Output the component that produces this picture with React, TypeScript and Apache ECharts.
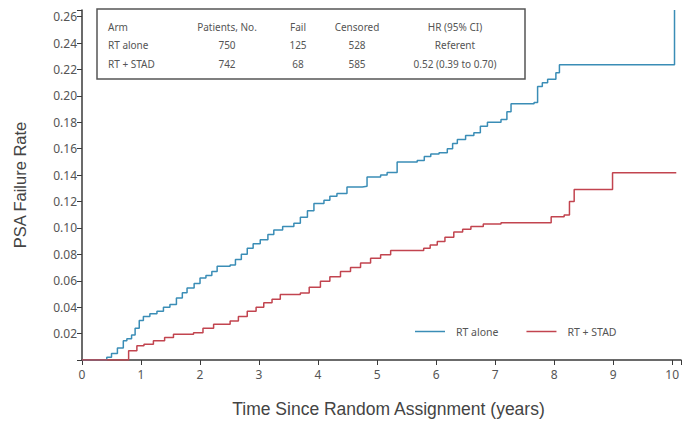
import React, { useEffect, useRef } from "react";
import * as echarts from "echarts";

// Kaplan-Meier style cumulative PSA failure (time in years, rate)
const rtAloneTimes = [0, 0.35, 0.42, 0.5, 0.6, 0.7, 0.76, 0.84, 0.9, 0.97, 1.04, 1.15, 1.27, 1.38, 1.49, 1.6, 1.7, 1.78, 1.9, 2.0, 2.1, 2.2, 2.29, 2.4, 2.51, 2.6, 2.7, 2.8, 2.9, 3.02, 3.15, 3.25, 3.4, 3.59, 3.7, 3.82, 3.93, 4.1, 4.2, 4.32, 4.49, 4.75, 4.83, 5.06, 5.17, 5.34, 5.68, 5.8, 5.91, 6.05, 6.19, 6.28, 6.36, 6.5, 6.64, 6.75, 6.87, 7.1, 7.2, 7.27, 7.66, 7.72, 7.8, 7.89, 8.03, 8.09, 10.04, 10.04];
const rtAloneRates = [0, 0, 0.002, 0.005, 0.009, 0.0145, 0.016, 0.019, 0.024, 0.03, 0.033, 0.035, 0.037, 0.04, 0.042, 0.047, 0.051, 0.0546, 0.058, 0.062, 0.064, 0.067, 0.071, 0.071, 0.072, 0.076, 0.08, 0.0846, 0.088, 0.091, 0.095, 0.0985, 0.101, 0.1035, 0.108, 0.113, 0.1185, 0.121, 0.124, 0.126, 0.131, 0.1315, 0.1386, 0.14, 0.142, 0.15, 0.151, 0.154, 0.156, 0.157, 0.16, 0.164, 0.167, 0.17, 0.172, 0.177, 0.18, 0.182, 0.188, 0.194, 0.195, 0.207, 0.21, 0.2125, 0.2175, 0.2235, 0.2235, 0.265];

const rtStadTimes = [0, 0.7, 0.79, 0.93, 1.05, 1.21, 1.4, 1.55, 1.89, 2.05, 2.23, 2.51, 2.65, 2.8, 2.95, 3.08, 3.22, 3.36, 3.7, 3.85, 4.04, 4.2, 4.38, 4.55, 4.72, 4.89, 5.06, 5.23, 5.79, 5.9, 6.02, 6.15, 6.3, 6.45, 6.59, 6.8, 7.1, 7.95, 8.17, 8.26, 8.34, 8.99, 10.07];
const rtStadRates = [0, 0, 0.007, 0.0107, 0.012, 0.0145, 0.017, 0.0195, 0.0207, 0.024, 0.027, 0.0295, 0.033, 0.037, 0.04, 0.0433, 0.046, 0.0496, 0.0508, 0.055, 0.0596, 0.063, 0.067, 0.07, 0.0734, 0.077, 0.0796, 0.083, 0.0846, 0.087, 0.0897, 0.093, 0.097, 0.099, 0.101, 0.103, 0.104, 0.1085, 0.1097, 0.12, 0.129, 0.1418, 0.1418];

const seriesNames = ["RT alone", "RT + STAD"];
const tableHeaders = ["Arm", "Patients, No.", "Fail", "Censored", "HR (95% CI)"];
const tableRows = [
  ["RT alone", "750", "125", "528", "Referent"],
  ["RT + STAD", "742", "68", "585", "0.52 (0.39 to 0.70)"],
];

const BLUE = "#3a8db6";
const RED = "#c2444f";
const TEXT = "#555";
const AXIS = "#3a3a3a";

export default function App() {
  const ref = useRef<HTMLDivElement>(null);
  useEffect(() => {
    if (!ref.current) return;
    const chart = echarts.init(ref.current, null, { renderer: "svg" });
    const colX = [108, 227, 298, 357, 455];
    const rowY = [27, 45, 64];
    const tableTexts: any[] = [];
    [tableHeaders, ...tableRows].forEach((row, ri) => {
      row.forEach((cell, ci) => {
        tableTexts.push({
          type: "text",
          x: colX[ci],
          y: rowY[ri],
          style: {
            text: cell,
            fill: TEXT,
            font: '10px "Noto Sans"',
            textAlign: ci === 0 ? "left" : "center",
            textVerticalAlign: "middle",
          },
        });
      });
    });
    const onTick = (v: number, step: number) =>
      Math.abs(v / step - Math.round(v / step)) < 1e-6;
    chart.setOption({
      animation: false,
      backgroundColor: "#fff",
      grid: { left: 82, right: 3, top: 10, bottom: 60.5, containLabel: false },
      xAxis: {
        type: "value",
        min: 0,
        max: 10.15,
        interval: 1,
        name: "Time Since Random Assignment (years)",
        nameLocation: "middle",
        nameGap: 40,
        nameTextStyle: { fontFamily: '"Liberation Sans"', fontSize: 17.5, color: "#444", padding: [0, 0, 0, 14] },
        axisLine: { show: true, lineStyle: { color: AXIS, width: 1.5 } },
        axisTick: { show: true, length: 5, lineStyle: { color: AXIS } },
        axisLabel: {
          color: TEXT,
          fontSize: 12,
          fontFamily: '"Noto Sans"',
          margin: 8,
          formatter: (v: number) => (onTick(v, 1) ? String(Math.round(v)) : ""),
        },
        splitLine: { show: false },
      },
      yAxis: {
        type: "value",
        min: 0,
        max: 0.265,
        interval: 0.02,
        name: "PSA Failure Rate",
        nameLocation: "middle",
        nameGap: 54,
        nameTextStyle: { fontFamily: '"Liberation Sans"', fontSize: 16.5, color: "#444" },
        axisLine: { show: true, lineStyle: { color: AXIS, width: 1.5 } },
        axisTick: { show: true, length: 5, lineStyle: { color: AXIS } },
        axisLabel: {
          color: TEXT,
          fontSize: 12,
          fontFamily: '"Noto Sans"',
          margin: 5,
          formatter: (v: number) => (v > 0 && onTick(v, 0.02) ? v.toFixed(2) : ""),
        },
        splitLine: { show: false },
      },
      legend: {
        left: 410,
        top: 321,
        itemWidth: 30,
        itemHeight: 1.5,
        itemGap: 28,
        icon: "rect",
        textStyle: { color: TEXT, fontSize: 10.5, fontFamily: '"Noto Sans"', padding: [0, 0, 0, 6] },
        data: seriesNames,
      },
      series: [
        {
          name: seriesNames[0],
          type: "line",
          step: "end",
          symbol: "none",
          lineStyle: { color: BLUE, width: 1.5 },
          itemStyle: { color: BLUE },
          data: rtAloneTimes.map((t, i) => [t, rtAloneRates[i]]),
        },
        {
          name: seriesNames[1],
          type: "line",
          step: "end",
          symbol: "none",
          lineStyle: { color: RED, width: 1.5 },
          itemStyle: { color: RED },
          data: rtStadTimes.map((t, i) => [t, rtStadRates[i]]),
        },
      ],
      graphic: [
        {
          type: "group",
          children: [
            {
              type: "rect",
              shape: { x: 97, y: 9, width: 428, height: 70 },
              style: { fill: "#fff", stroke: "#555", lineWidth: 1.5 },
            },
            ...tableTexts,
          ],
        },
      ],
    });
    return () => chart.dispose();
  }, []);
  return <div ref={ref} style={{ width: 684, height: 423, position: "fixed", left: 0, top: 0 }} />;
}
